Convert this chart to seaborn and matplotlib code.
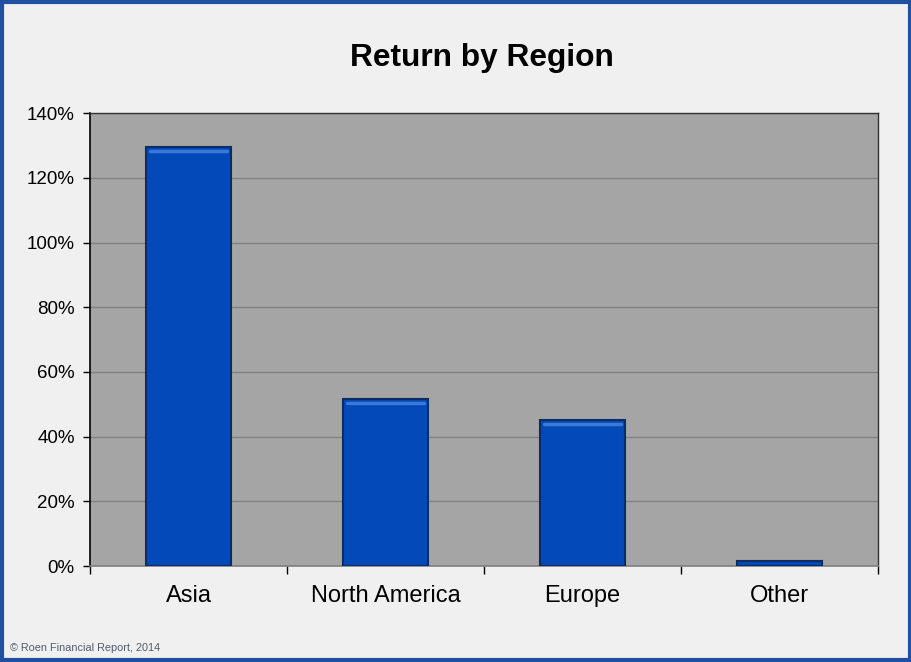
import matplotlib
matplotlib.use("Agg")
import matplotlib.pyplot as plt
import matplotlib.ticker as mticker
import pandas as pd
import seaborn as sns

regions = ["Asia", "North America", "Europe", "Other"]
returns = [129.5, 51.7, 45.2, 1.5]

data = pd.DataFrame({"Region": regions, "Return": returns})

sns.set_style("white")
plt.rcParams["font.family"] = ["Liberation Sans", "DejaVu Sans"]
plt.rcParams["text.color"] = "black"
plt.rcParams["xtick.color"] = "black"
plt.rcParams["ytick.color"] = "black"

fig = plt.figure(figsize=(9.12, 6.62), dpi=100, facecolor="#f0f0f0")
ax = fig.add_axes([0.0987, 0.145, 0.864, 0.684])
ax.set_facecolor("#a5a5a5")

sns.barplot(x="Region", y="Return", data=data, color="#0449b8", width=0.43,
            edgecolor="#0a2d66", linewidth=1.5, saturation=1, ax=ax, zorder=3)

# lighter bevel strip along the top of each bar
for bar in ax.patches:
    h = bar.get_height()
    if h > 3:
        ax.plot([bar.get_x() + 0.02, bar.get_x() + bar.get_width() - 0.02],
                [h - 1.2, h - 1.2], color="#3b78d8", linewidth=2.5,
                solid_capstyle="round", zorder=4)

# grid + axis
ax.set_ylim(0, 140)
ax.set_xlim(-0.5, 3.5)
ax.yaxis.set_major_locator(mticker.MultipleLocator(20))
ax.yaxis.set_major_formatter(mticker.FuncFormatter(lambda v, p: f"{v:.0f}%"))
ax.yaxis.grid(True, color="#7f7f7f", linewidth=0.9, zorder=0)
ax.set_axisbelow(True)
ax.tick_params(axis="y", length=5, width=1, color="black", labelsize=13.5,
               pad=6, left=True, labelcolor="black")
ax.tick_params(axis="x", which="major", length=0, labelsize=17, pad=14,
               labelcolor="black")
ax.set_xticks([-0.5, 0.5, 1.5, 2.5, 3.5], minor=True)
ax.tick_params(axis="x", which="minor", length=6, width=1, color="black",
               bottom=True)
for s in ["left", "bottom"]:
    ax.spines[s].set_color("black")
    ax.spines[s].set_linewidth(1.2)
for s in ["top", "right"]:
    ax.spines[s].set_color("#333333")
    ax.spines[s].set_linewidth(1.0)
ax.spines["bottom"].set_color("#7f7f7f")
ax.set_xlabel("")
ax.set_ylabel("")

fig.text(0.528, 0.912, "Return by Region", ha="center", va="center",
         fontsize=22.8, fontweight="bold", color="black")
fig.text(0.011, 0.021, "© Roen Financial Report, 2014", ha="left", va="center",
         fontsize=7.8, color="#4d5b70")

# blue frame around the chart
fig.patches.append(plt.Rectangle((0.002, 0.003), 0.996, 0.994,
                                 transform=fig.transFigure, fill=False,
                                 edgecolor="#1f4f9e", linewidth=3))

fig.savefig("out.png", dpi=100, facecolor=fig.get_facecolor())
